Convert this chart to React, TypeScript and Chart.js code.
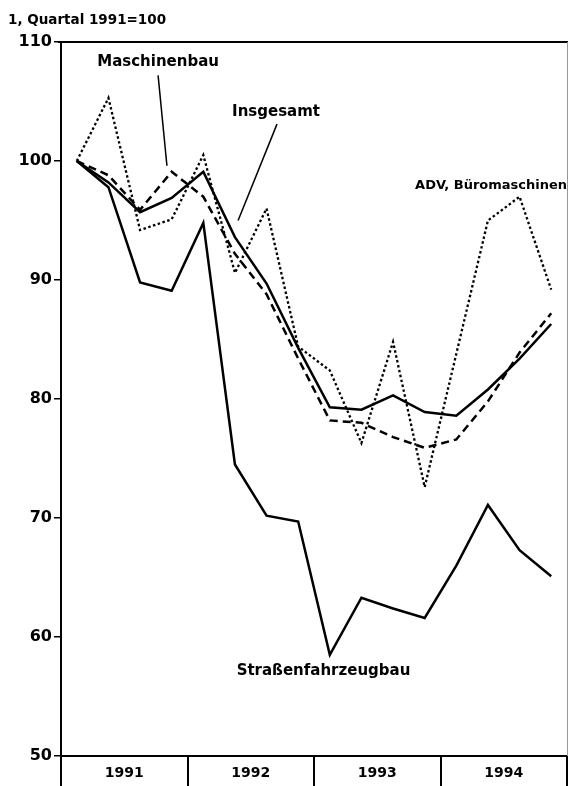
import React, { useEffect, useRef } from 'react';
import { Chart, registerables } from 'chart.js';

Chart.register(...registerables);

const quarters = [
  'I/1991', 'II/1991', 'III/1991', 'IV/1991',
  'I/1992', 'II/1992', 'III/1992', 'IV/1992',
  'I/1993', 'II/1993', 'III/1993', 'IV/1993',
  'I/1994', 'II/1994', 'III/1994', 'IV/1994',
];
const years = ['1991', '1992', '1993', '1994'];
const yMin = 50;
const yMax = 110;
const yStep = 10;

const insgesamt = [100, 98.2, 95.7, 96.9, 99.1, 93.6, 89.7, 84.3, 79.3, 79.1, 80.3, 78.9, 78.6, 80.8, 83.4, 86.3];
const maschinenbau = [100, 98.8, 95.9, 99.1, 97.0, 92.2, 88.8, 83.4, 78.2, 78.0, 76.8, 75.9, 76.6, 79.8, 83.9, 87.2];
const adv = [100, 105.3, 94.2, 95.1, 100.5, 90.6, 96.0, 84.4, 82.4, 76.3, 84.8, 72.6, 83.8, 95.0, 97.0, 89.2];
const strassen = [100, 97.8, 89.8, 89.1, 94.8, 74.5, 70.2, 69.7, 58.5, 63.3, 62.4, 61.6, 66.0, 71.1, 67.3, 65.1];

const subtitle = '1, Quartal 1991=100';

// annotation labels in data units (quarter index, index value)
const labelTexts = ['Maschinenbau', 'Insgesamt', 'ADV, Büromaschinen', 'Straßenfahrzeugbau'];
const labelX = [2.57, 6.3, 13.1, 7.8];
const labelY = [108.3, 104.1, 97.9, 57.1];
const labelSizes = [15, 15, 13, 15];
// leader lines: [x1, y1, x2, y2] in data units
const leaders = [
  [2.57, 107.2, 2.85, 99.6],
  [6.33, 103.1, 5.1, 95.0],
];

const FONT = '"DejaVu Sans", sans-serif';

export default function App() {
  const ref = useRef<HTMLCanvasElement | null>(null);

  useEffect(() => {
    const canvas = ref.current;
    if (!canvas) return;

    const annotate = {
      id: 'annotate',
      afterDatasetsDraw(chart: any) {
        const { ctx, chartArea, scales } = chart;
        const xs = scales.x;
        const ys = scales.y;
        const x0 = xs.getPixelForValue(0);
        const step = xs.getPixelForValue(1) - x0;
        const px = (i: number) => x0 + i * step;
        const py = (v: number) => ys.getPixelForValue(v);
        ctx.save();
        // frame top and right
        ctx.strokeStyle = '#000';
        ctx.lineWidth = 2;
        ctx.beginPath();
        ctx.moveTo(chartArea.left - 3, chartArea.top);
        ctx.lineTo(chartArea.right + 1, chartArea.top);
        ctx.stroke();
        ctx.strokeStyle = '#999';
        ctx.lineWidth = 1;
        ctx.beginPath();
        ctx.moveTo(chartArea.right + 0.5, chartArea.top);
        ctx.lineTo(chartArea.right + 0.5, chartArea.bottom);
        ctx.stroke();
        // leaders
        ctx.strokeStyle = '#000';
        ctx.lineWidth = 1.5;
        leaders.forEach((l) => {
          ctx.beginPath();
          ctx.moveTo(px(l[0]), py(l[1]));
          ctx.lineTo(px(l[2]), py(l[3]));
          ctx.stroke();
        });
        // labels
        ctx.fillStyle = '#000';
        ctx.textAlign = 'center';
        ctx.textBaseline = 'middle';
        labelTexts.forEach((t, i) => {
          ctx.font = `bold ${labelSizes[i]}px ${FONT}`;
          ctx.fillText(t, px(labelX[i]), py(labelY[i]));
        });
        // subtitle
        ctx.font = `bold 13.5px ${FONT}`;
        ctx.textAlign = 'left';
        ctx.fillText(subtitle, 8, 20);
        ctx.restore();
      },
    };

    const chart = new Chart(canvas, {
      type: 'line',
      data: {
        labels: quarters,
        datasets: [
          { label: 'Insgesamt', data: insgesamt, borderColor: '#000', borderWidth: 2.5, pointRadius: 0, tension: 0 },
          { label: 'Maschinenbau', data: maschinenbau, borderColor: '#000', borderWidth: 2.5, borderDash: [8, 5], pointRadius: 0, tension: 0 },
          { label: 'ADV, Büromaschinen', data: adv, borderColor: '#000', borderWidth: 2.3, borderDash: [2.5, 2.5], pointRadius: 0, tension: 0 },
          { label: 'Straßenfahrzeugbau', data: strassen, borderColor: '#000', borderWidth: 2.5, pointRadius: 0, tension: 0 },
        ],
      },
      options: {
        animation: false,
        responsive: false,
        devicePixelRatio: 1,
        layout: { padding: { top: 42, right: 1, left: 0, bottom: 0 } },
        plugins: { legend: { display: false }, tooltip: { enabled: false }, title: { display: false } },
        scales: {
          x: {
            type: 'category',
            offset: true,
            display: false,
          },
          x2: {
            type: 'category',
            labels: years,
            position: 'bottom',
            offset: true,
            afterFit: (s: any) => { s.height = 30; },
            grid: { offset: true, drawOnChartArea: false, tickLength: 30, color: '#000', lineWidth: 2 },
            border: { display: true, color: '#000', width: 2 },
            ticks: { color: '#000', font: { family: FONT, size: 14, weight: 'bold' }, padding: -21 },
          },
          y: {
            min: yMin,
            max: yMax,
            afterFit: (s: any) => { s.width = 61; },
            ticks: { stepSize: yStep, color: '#000', font: { family: FONT, size: 16, weight: 'bold' }, padding: 2 },
            grid: { drawOnChartArea: false, tickLength: 7, color: '#000', lineWidth: 1.5 },
            border: { display: true, color: '#000', width: 2 },
          },
        },
      },
      plugins: [annotate],
    });
    return () => chart.destroy();
  }, []);

  return (
    <div style={{ position: 'fixed', left: 0, top: 0, width: 568, height: 786, background: '#fff' }}>
      <canvas ref={ref} width={568} height={786} style={{ display: 'block' }} />
    </div>
  );
}
